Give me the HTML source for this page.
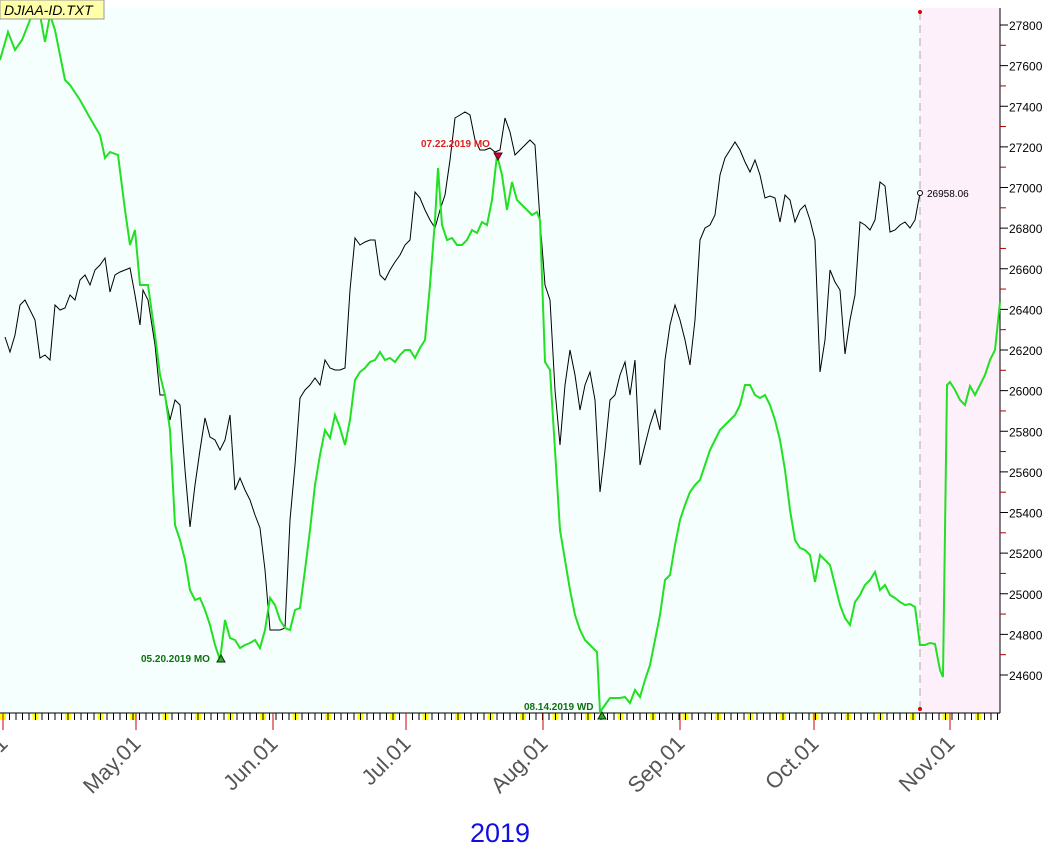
<!DOCTYPE html>
<html><head><meta charset="utf-8"><style>body{margin:0;background:#fff}svg{display:block}</style></head><body>
<svg width="1063" height="849" xmlns="http://www.w3.org/2000/svg" font-family="Liberation Sans, sans-serif">
<rect x="0" y="8" width="920" height="705" fill="#f5fffd"/>
<rect x="920" y="8" width="80" height="705" fill="#fdf0fb"/>
<line x1="920" y1="12" x2="920" y2="710" stroke="#aaa" stroke-dasharray="8,5"/>
<circle cx="920" cy="12" r="2" fill="#d00"/><circle cx="920" cy="709" r="2" fill="#d00"/>
<line x1="1000" y1="8" x2="1000" y2="713" stroke="#000"/>
<g font-size="12" fill="#000" id="yl"></g>
<g id="yt"></g>
<line x1="0" y1="713" x2="1000" y2="713" stroke="#000"/>
<g id="xt"></g>
<polyline fill="none" stroke="#000" stroke-width="1" points="5,337 10,352 15,335 20,305 25,300 30,310 35,320 40,358 45,355 50,360 55,305 60,310 65,308 70,295 75,300 80,280 85,275 90,285 95,270 100,265 105,258 110,292 115,275 120,272 125,270 130,268 135,295 140,325 143,290 148,300 155,345 160,395 165,395 170,420 175,400 180,405 185,470 190,527 195,485 200,450 205,418 210,437 215,440 220,450 225,440 230,415 235,490 240,478 245,490 250,500 255,515 260,528 265,570 270,630 280,630 285,628 290,520 295,465 300,398 305,390 310,385 315,378 320,385 325,360 330,368 335,370 340,370 345,368 350,290 355,238 360,245 365,242 370,240 375,240 380,275 385,280 390,270 395,262 400,255 405,245 410,240 415,192 420,198 425,210 430,220 435,228 440,210 445,195 450,160 455,118 460,115 465,112 470,115 475,140 480,150 485,150 490,148 495,152 500,150 505,118 510,132 515,155 520,150 525,145 530,140 535,145 540,220 545,285 550,300 555,390 560,445 565,385 570,350 575,375 580,410 585,385 590,372 595,400 600,492 605,450 610,400 615,395 620,375 625,362 630,395 635,360 640,465 645,445 650,425 655,410 660,430 665,360 670,325 675,305 680,320 685,340 690,365 695,320 700,240 705,228 710,225 715,215 720,175 725,158 730,150 735,142 740,150 745,162 750,172 755,160 760,175 765,198 770,196 775,198 780,222 785,195 790,200 795,222 800,210 805,205 810,220 815,240 820,372 825,340 830,270 835,282 840,290 845,354 850,320 855,295 860,222 865,225 870,230 875,220 880,182 885,186 890,232 895,230 900,225 905,222 910,228 915,220 920,193"/>
<polyline fill="none" stroke="#22e022" stroke-width="2" points="0,60 8,32 15,50 22,40 30,20 35,10 40,15 45,42 50,15 55,30 60,55 65,80 70,85 80,100 90,118 100,135 105,158 110,152 118,155 125,210 130,245 135,230 140,285 148,285 155,335 160,375 165,395 170,430 175,525 180,540 185,560 190,590 195,600 200,598 205,610 210,625 215,645 220,660 225,620 230,638 235,640 240,648 245,645 250,643 255,640 260,648 265,630 270,598 275,605 280,620 285,628 290,630 295,610 300,608 305,570 310,530 315,485 320,455 325,430 330,438 335,415 340,428 345,445 350,420 355,380 360,372 365,368 370,362 375,360 380,352 385,360 390,358 395,362 400,355 405,350 410,350 415,358 420,348 425,340 430,285 435,220 438,168 442,225 447,240 452,238 457,245 462,245 467,240 472,230 477,233 482,222 487,225 492,200 497,155 502,175 507,210 512,182 517,200 522,205 527,210 532,215 537,212 540,220 545,362 550,370 555,450 560,530 565,560 570,590 575,615 580,630 585,640 590,645 597,652 600,712 605,705 610,698 615,698 620,698 625,697 630,703 635,690 640,697 645,680 650,665 655,640 660,615 665,580 670,575 675,545 680,520 685,505 690,492 695,485 700,480 705,465 710,450 715,440 720,430 725,425 730,420 735,415 740,405 745,385 750,385 755,395 760,398 765,395 770,405 775,420 780,440 785,470 790,510 795,540 800,548 805,550 810,555 815,582 820,555 825,560 830,565 835,585 840,605 845,618 850,625 855,602 860,595 865,585 870,580 875,572 880,590 885,585 890,595 895,598 900,602 905,605 910,604 915,607 920,645 925,645 930,643 935,644 940,670 943,677 947,385 950,382 955,390 960,400 965,405 970,386 975,395 980,385 985,375 990,360 995,350 1000,302"/>
<circle cx="920" cy="193" r="2.5" fill="#fff" stroke="#000"/>
<text x="927" y="197" font-size="10">26958.06</text>
<polygon points="494,153 502,153 498,160" fill="#c00060" stroke="#600"/>
<text x="421" y="147" font-size="10" font-weight="bold" fill="#e02020">07.22.2019 MO</text>
<polygon points="217,662 225,662 221,655" fill="#3a3" stroke="#030"/>
<text x="141" y="662" font-size="10" font-weight="bold" fill="#107010">05.20.2019 MO</text>
<polygon points="598,719 606,719 602,712" fill="#3a3" stroke="#030"/>
<text x="524" y="710" font-size="10" font-weight="bold" fill="#107010">08.14.2019 WD</text>
<rect x="0" y="0" width="104" height="19" fill="#ffffa8" stroke="#999"/>
<text x="4" y="15" font-size="14" font-style="italic">DJIAA-ID.TXT</text>
<g font-size="22" fill="#555" id="ml"></g>
<text x="500" y="842" font-size="27" fill="#1010e0" text-anchor="middle">2019</text>
<script>
var ns="http://www.w3.org/2000/svg";function el(p,t,a,tx){var e=document.createElementNS(ns,t);for(var k in a)e.setAttribute(k,a[k]);if(tx)e.textContent=tx;document.getElementById(p).appendChild(e);}
for(var i=0;i<=16;i++){var v=27800-i*200,y=25+i*40.625;el("yt","line",{x1:1000,y1:y,x2:1008,y2:y,stroke:"#000"});el("yl","text",{x:1009,y:y+5},String(v));if(i<16)el("yt","line",{x1:1000,y1:y+20.3,x2:1006,y2:y+20.3,stroke:"#a00"});}
var months=[[3,"Apr.01"],[136,"May.01"],[273,"Jun.01"],[406,"Jul.01"],[543,"Aug.01"],[680,"Sep.01"],[814,"Oct.01"],[950,"Nov.01"]];
for(var x=3;x<1000;x+=6.5){var day=Math.round((x-3)/6.5)%5;if(day==0)el("xt","rect",{x:x-3,y:714,width:6,height:6,fill:"#ff0"});el("xt","line",{x1:x,y1:713,x2:x,y2:720,stroke:"#000"});}
months.forEach(function(m){el("xt","line",{x1:m[0],y1:713,x2:m[0],y2:730,stroke:"#c00"});el("ml","text",{x:m[0]+6,y:745,"text-anchor":"end",transform:"rotate(-45 "+(m[0]+6)+" 745)"},m[1]);});
</script>
</svg>
</body></html>
